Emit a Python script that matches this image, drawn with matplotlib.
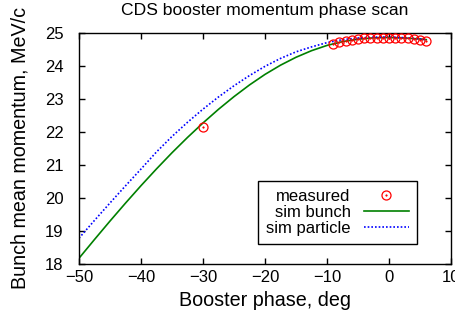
import matplotlib
matplotlib.use("Agg")
import matplotlib.pyplot as plt
from matplotlib.legend_handler import HandlerTuple

plt.rcParams['font.family'] = ['Liberation Sans', 'DejaVu Sans']

# measured points
meas_phase = [-30, -9, -8, -7, -6, -5, -4, -3, -2, -1, 0, 1, 2, 3, 4, 5, 6]
meas_p = [22.16, 24.68, 24.73, 24.76, 24.79, 24.82, 24.84, 24.85, 24.86, 24.86,
          24.86, 24.86, 24.85, 24.84, 24.82, 24.80, 24.75]

# simulation curves
sim_phase = [-50, -47.5, -45, -42.5, -40, -37.5, -35, -32.5, -30, -27.5, -25, -22.5,
             -20, -17.5, -15, -12.5, -10, -7.5, -5, -2.5, 0, 2.5, 5, 6]
sim_bunch = [18.16, 18.73, 19.29, 19.835, 20.365, 20.875, 21.365, 21.83, 22.27, 22.685,
             23.07, 23.425, 23.745, 24.025, 24.265, 24.465, 24.625, 24.74, 24.815, 24.855,
             24.865, 24.85, 24.82, 24.80]
sim_particle = [18.77, 19.31, 19.84, 20.36, 20.87, 21.39, 21.86, 22.29, 22.69, 23.06,
                23.40, 23.71, 23.99, 24.23, 24.43, 24.58, 24.71, 24.80, 24.85, 24.875,
                24.88, 24.86, 24.82, 24.80]

xticks = [-50, -40, -30, -20, -10, 0, 10]
yticks = [18, 19, 20, 21, 22, 23, 24, 25]

fig = plt.figure(figsize=(4.56, 3.21), dpi=100)
ax = fig.add_axes([0.1732, 0.179, 0.816, 0.718])

m1, = ax.plot(meas_phase, meas_p, linestyle='none', marker='o', markersize=6.5,
              markerfacecolor='none', markeredgecolor='red', markeredgewidth=0.9, zorder=3)
m2, = ax.plot(meas_phase, meas_p, linestyle='none', marker='o', markersize=1.2,
              markerfacecolor='red', markeredgecolor='red', markeredgewidth=0.3, zorder=3)
l1, = ax.plot(sim_phase, sim_bunch, color='#008000', lw=1.2, zorder=2)
l2, = ax.plot(sim_phase, sim_particle, color='#0000ff', lw=1.2, linestyle=(0, (1, 1.2)), zorder=2)

ax.set_xlim(-50, 10)
ax.set_ylim(18, 25)
ax.set_xticks(xticks)
ax.set_yticks(yticks)
ax.tick_params(direction='in', top=True, right=True, length=4.5, width=1,
               labelsize=12)
ax.tick_params(axis='x', pad=5)
ax.tick_params(axis='y', pad=11)
for s in ax.spines.values():
    s.set_linewidth(1)

ax.set_xlabel('Booster phase, deg', fontsize=14.2, labelpad=4)
ax.set_ylabel('Bunch mean momentum, MeV/c', fontsize=14.2, labelpad=11)
ax.set_title('CDS booster momentum phase scan', fontsize=12.6, pad=13)

leg = ax.legend([(m1, m2), l1, l2], ['measured', 'sim bunch', 'sim particle'],
                handler_map={tuple: HandlerTuple(ndivide=1)},
                loc='lower right', bbox_to_anchor=(0.909, 0.085),
                markerfirst=False, fontsize=12, handlelength=2.7,
                handletextpad=0.8, labelspacing=0.05, borderpad=0.5,
                borderaxespad=0, fancybox=False, framealpha=1,
                edgecolor='black')
leg.get_frame().set_linewidth(1)

fig.savefig('out.png', dpi=100)
